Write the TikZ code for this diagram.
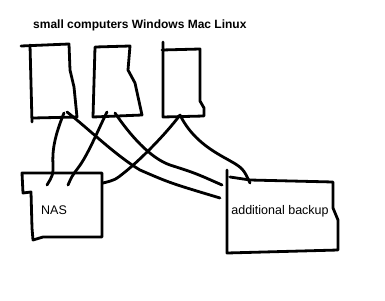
\documentclass[tikz,border=0pt]{standalone}
\usepackage{fontspec}
\setmainfont{Liberation Sans}
\begin{document}
\begin{tikzpicture}[x=1pt,y=-1pt,
  ink/.style={line width=2.8pt,line cap=round,line join=round,black},
  wire/.style={ink},
  label/.style={inner sep=0pt,font=\fontsize{12.5}{14}\selectfont},
  title/.style={inner sep=0pt,font=\bfseries\fontsize{12}{14}\selectfont}]
\useasboundingbox (0,0) rectangle (385,300);
% title
\node[title,anchor=west] (title) at (33,25) {small computers Windows Mac Linux};
% Windows box
\draw[ink] (21,46) -- (69,44) -- (70,70) -- (74,87) -- (77,117) -- (33,118);
\draw[ink] (30,45) -- (32,122);
% Mac box
\draw[ink] (95,47) -- (130,46) -- (128,70) -- (135,83) -- (142,115) -- (93,117) -- (95,47);
% Linux box
\draw[ink] (163,42) -- (163,117) -- (204,116) -- (204,108) -- (200,101) -- (200,49) -- (162,50);
% NAS box
\draw[ink] (102,173) -- (22,173) -- (23,193) -- (31,192) -- (32,228) -- (33,240) -- (43,237) -- (102,237) -- (102,173);
\node[label] (nas) at (54,210) {NAS};
% additional backup box
\draw[ink] (227,170) -- (227,253) -- (338,250) -- (338,220) -- (333,208) -- (333,182) -- (250,180) -- (230,177);
\node[label] (backup) at (280,211) {additional backup};
% connector ends
\coordinate (w1) at (64,113);
\coordinate (w2) at (67,112);
\coordinate (m1) at (107,112);
\coordinate (m2) at (115,113);
\coordinate (l1) at (180,115);
\coordinate (n1) at (47,185);
\coordinate (n2) at (68,185);
\coordinate (n3) at (103,183);
\coordinate (b1) at (220,198);
\coordinate (b2) at (222,185);
\coordinate (b3) at (250,183);
% connectors
\draw[wire] (w1) .. controls (55,135) and (52,150) .. (53,165) .. controls (53,175) .. (n1);
\draw[wire] (w2) .. controls (90,130) and (115,155) .. (140,170) .. controls (170,183) .. (b1);
\draw[wire] (m1) .. controls (98,130) and (88,155) .. (78,168) .. controls (72,176) .. (n2);
\draw[wire] (m2) .. controls (130,135) and (150,158) .. (170,165) .. controls (195,173) .. (b2);
\draw[wire] (l1) .. controls (165,135) and (140,160) .. (125,172) .. controls (115,180) .. (n3);
\draw[wire] (l1) .. controls (190,135) and (205,147) .. (225,158) .. controls (243,168) .. (b3);
\end{tikzpicture}
\end{document}
